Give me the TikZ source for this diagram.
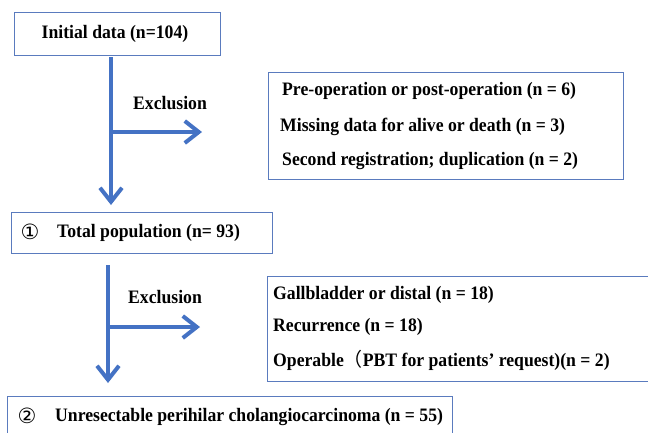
\documentclass[tikz,border=0pt]{standalone}
\usepackage{fontspec}
\setmainfont{Liberation Serif}[FakeStretch=0.93]
\newfontfamily\symfont{DejaVu Sans}
\newfontfamily\cjk{Noto Sans CJK SC}
\usetikzlibrary{arrows.meta}
\definecolor{arrblue}{HTML}{4472C4}
\definecolor{boxblue}{HTML}{5A7BBE}
\begin{document}
\begin{tikzpicture}[x=1pt,y=-1pt,
  box/.style={draw=boxblue,line width=1.1pt,inner sep=0pt,anchor=north west},
  txt/.style={font=\fontsize{19}{21}\selectfont\bfseries,inner sep=0pt,anchor=west},
  num/.style={font=\fontsize{21}{23}\selectfont\symfont,inner sep=0pt},
  arr/.style={draw=arrblue,line width=4pt,-{Straight Barb[length=14pt,width=22pt,line width=4pt]}}]
\fill[white] (0,0) rectangle (648,432);
\clip (0,0) rectangle (648,432);
% boxes
\node[box,minimum width=206pt,minimum height=43pt] (box1) at (14,12) {};
\node[txt,anchor=center] (t1) at (115,34) {Initial data (n=104)};
\node[box,minimum width=355pt,minimum height=107pt] (box2) at (268,72) {};
\node[txt] (t21) at (282,91) {Pre-operation or post-operation (n = 6)};
\node[txt] (t22) at (280,127) {Missing data for alive or death (n = 3)};
\node[txt] (t23) at (282,161) {Second registration; duplication (n = 2)};
\node[box,minimum width=261pt,minimum height=41pt] (box3) at (11,212) {};
\node[num] (n1) at (30,232) {①};
\node[txt] (t3) at (57,233) {Total population (n= 93)};
\node[box,minimum width=400pt,minimum height=105pt] (box4) at (267,276) {};
\node[txt] (t41) at (273,295) {Gallbladder or distal (n = 18)};
\node[txt] (t42) at (273,327) {Recurrence (n = 18)};
\node[txt] (t43) at (273,360) {Operable{\cjk\mdseries （}PBT for patients’ request)(n = 2)};
\node[box,minimum width=445pt,minimum height=60pt] (box5) at (7,396) {};
\node[num] (n2) at (27,416) {②};
\node[txt] (t5) at (55,417) {Unresectable perihilar cholangiocarcinoma (n = 55)};
% exclusion labels
\node[txt] (ex1) at (133,103) {Exclusion};
\node[txt] (ex2) at (128,297) {Exclusion};
% arrows
\coordinate (a1s) at (111,57);
\coordinate (a1e) at (111,205);
\coordinate (b1s) at (111,132);
\coordinate (b1e) at (202,132);
\coordinate (a2s) at (108,265);
\coordinate (a2e) at (108,383);
\coordinate (b2s) at (108,327);
\coordinate (b2e) at (200,327);
\draw[arr] (a1s) -- (a1e);
\draw[arr] (b1s) -- (b1e);
\draw[arr] (a2s) -- (a2e);
\draw[arr] (b2s) -- (b2e);
\end{tikzpicture}
\end{document}
